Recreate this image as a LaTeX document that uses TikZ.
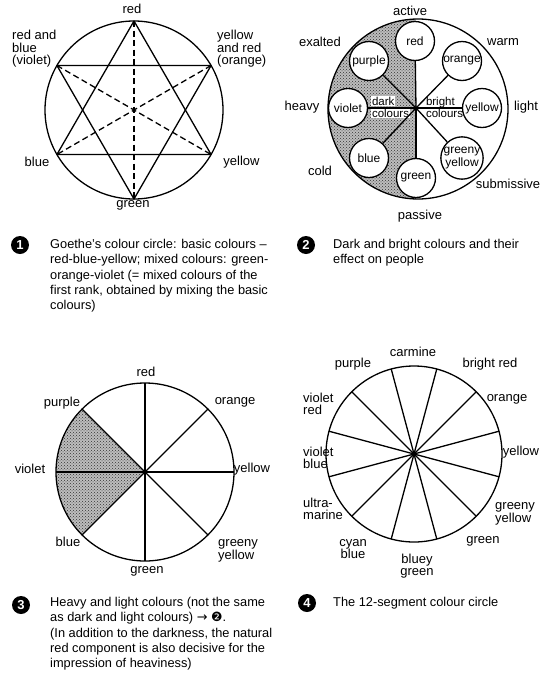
\documentclass[tikz,border=0pt]{standalone}
\usepackage{fontspec}
\setmainfont{Liberation Sans}
\newfontfamily\djv{DejaVu Sans}
\usetikzlibrary{calc,patterns}
\tikzset{
  ln/.style={line width=1.3pt},
  dsh/.style={line width=1.3pt, dash pattern=on 6pt off 3.5pt},
  lbl/.style={font=\fontsize{13}{12.5}\selectfont, inner sep=0pt, align=left},
  lblc/.style={lbl, align=center},
  circ/.style={circle, draw, fill=white, line width=1.3pt, minimum size=39pt, inner sep=0pt, font=\fontsize{12}{11}\selectfont, align=center},
  smalltxt/.style={font=\fontsize{11.5}{11.5}\selectfont, inner sep=0.8pt, fill=white, anchor=base west},
  shadefill/.style={fill=black!26},
  shadedots/.style={pattern=crosshatch dots, pattern color=black!80},
  captxt/.style={font=\fontsize{12.8}{15.3}\selectfont, inner sep=0pt, align=left, anchor=north west},
  numc/.style={circle, fill=black, text=white, inner sep=0pt, minimum size=18pt, font=\bfseries\fontsize{13}{13}\selectfont}
}
\begin{document}
\begin{tikzpicture}[x=1pt,y=-1pt]
\useasboundingbox (0,0) rectangle (540,686);
\fill[white] (0,0) rectangle (540,686);

% ---------------- Diagram 1: Goethe ----------------
\coordinate (g-c) at (134,110);
\coordinate (g-red) at ($(g-c)+(90:89pt)$);
\coordinate (g-orange) at ($(g-c)+(30:89pt)$);
\coordinate (g-yellow) at ($(g-c)+(-30:89pt)$);
\coordinate (g-green) at ($(g-c)+(-90:89pt)$);
\coordinate (g-blue) at ($(g-c)+(210:89pt)$);
\coordinate (g-violet) at ($(g-c)+(150:89pt)$);
\draw[ln] (g-c) circle (89pt);
\draw[ln, line join=round] (g-red) -- (g-yellow) -- (g-blue) -- cycle;
\draw[ln, line join=round] (g-violet) -- (g-orange) -- (g-green) -- cycle;
\draw[dsh] (g-red) -- (g-green);
\draw[dsh] (g-violet) -- (g-yellow);
\draw[dsh] (g-orange) -- (g-blue);
\node[lbl] (g-l-red) at (132,9) {red};
\node[lbl, anchor=west] (g-l-violet) at (12,49) {red and\\blue\\(violet)};
\node[lbl, anchor=west] (g-l-orange) at (217,49) {yellow\\and red\\(orange)};
\node[lbl] (g-l-blue) at (37,162) {blue};
\node[lbl] (g-l-yellow) at (241.5,162) {yellow};
\node[lbl] (g-l-green) at (133,205) {green};

% ---------------- Diagram 2: dark and bright ----------------
\coordinate (b-c) at (416,108);
\coordinate (b-o) at (418,109);
\begin{scope}
  \clip (b-o) circle (90pt);
  \fill[shadefill] (320,10) rectangle (416,210);
  \fill[shadedots] (320,10) rectangle (416,210);
\end{scope}
\draw[ln] (b-o) circle (90pt);
\node[smalltxt] (b-dark) at (371,105) {dark};
\node[smalltxt] (b-dcol) at (371,117.5) {colours};
\node[smalltxt] (b-bright) at (425,105) {bright};
\node[smalltxt] (b-bcol) at (425,117.5) {colours};
\node[circ] (b-red) at (415,41) {red};
\node[circ] (b-orange) at (462,61) {orange};
\node[circ] (b-yellow) at (482,108) {yellow};
\node[circ] (b-gy) at (462,158) {greeny\\yellow};
\node[circ] (b-green) at (416,178) {green};
\node[circ] (b-blue) at (369,158) {blue};
\node[circ] (b-violet) at (348,108) {violet};
\node[circ] (b-purple) at (369,61) {purple};
\foreach \n in {red,orange,yellow,gy,green,blue,violet,purple}
  \draw[ln] (b-c) -- (b-\n);
\fill (b-c) circle (1.8pt);
\node[lbl] (b-l-active) at (410,11) {active};
\node[lbl] (b-l-exalted) at (320,42) {exalted};
\node[lbl] (b-l-warm) at (503,42) {warm};
\node[lbl] (b-l-heavy) at (302,107) {heavy};
\node[lbl] (b-l-light) at (526,107) {light};
\node[lbl] (b-l-cold) at (320,171) {cold};
\node[lbl] (b-l-sub) at (508,184) {submissive};
\node[lbl] (b-l-passive) at (420,216) {passive};

% ---------------- Captions top ----------------
\node[numc] (n1) at (20,245) {1};
\node[captxt] (cap1) at (50,239) {Goethe's colour circle: basic colours --\\red-blue-yellow; mixed colours: green-\\orange-violet (= mixed colours of the\\first rank, obtained by mixing the basic\\colours)};
\node[numc] (n2) at (306,245) {2};
\node[captxt] (cap2) at (333,239) {Dark and bright colours and their\\effect on people};

% ---------------- Diagram 3: heavy and light ----------------
\coordinate (h-c) at (145,472);
\begin{scope}
  \clip (h-c) circle (89pt);
  \fill[shadefill] (h-c) -- ($(h-c)+(135:130pt)$) -- ($(h-c)+(180:184pt)$) -- ($(h-c)+(225:130pt)$) -- cycle;
  \fill[shadedots] (h-c) -- ($(h-c)+(135:130pt)$) -- ($(h-c)+(180:184pt)$) -- ($(h-c)+(225:130pt)$) -- cycle;
\end{scope}
\draw[ln] (h-c) circle (89pt);
\foreach \a/\n in {90/red,45/orange,0/yellow,-45/gy,-90/green,-135/blue,180/violet,135/purple}{
  \coordinate (h-\n) at ($(h-c)+(\a:89pt)$);
  \draw[ln] (h-c) -- (h-\n);
}
\fill (h-c) circle (1.8pt);
\node[lbl] (h-l-red) at (146,372) {red};
\node[lbl] (h-l-purple) at (62,403) {purple};
\node[lbl] (h-l-orange) at (235,402) {orange};
\node[lbl] (h-l-violet) at (30,469) {violet};
\node[lbl] (h-l-yellow) at (252,469) {yellow};
\node[lbl] (h-l-blue) at (68,542) {blue};
\node[lbl, anchor=west] (h-l-gy) at (218,551) {greeny\\yellow};
\node[lbl] (h-l-green) at (147,571) {green};

% ---------------- Diagram 4: 12-segment ----------------
\coordinate (t-c) at (414,454);
\draw[ln] (t-c) circle (88pt);
\foreach \k in {0,...,11}{
  \coordinate (t-s\k) at ($(t-c)+({15+30*\k}:88pt)$);
  \draw[ln] (t-c) -- (t-s\k);
}
\fill (t-c) circle (2.8pt);
\node[lbl] (t-carmine) at (413,352) {carmine};
\node[lbl] (t-bred) at (490,364) {bright red};
\node[lbl] (t-orange) at (507,399) {orange};
\node[lbl] (t-yellow) at (521,452) {yellow};
\node[lbl, anchor=west] (t-gy) at (495,514) {greeny\\yellow};
\node[lbl] (t-green) at (483,541) {green};
\node[lblc] (t-bg) at (417,566) {bluey\\green};
\node[lblc] (t-cb) at (353,549) {cyan\\blue};
\node[lbl, anchor=west] (t-um) at (303,509) {ultra-\\marine};
\node[lbl, anchor=west] (t-vb) at (303,458) {violet\\blue};
\node[lbl, anchor=west] (t-vr) at (303,404) {violet\\red};
\node[lbl] (t-purple) at (353,364) {purple};

% ---------------- Captions bottom ----------------
\node[numc] (n3) at (21,605) {3};
\node[captxt] (cap3) at (50,597) {Heavy and light colours (not the same\\as dark and light colours) {\djv →} {\djv ❷}.\\(In addition to the darkness, the natural\\red component is also decisive for the\\impression of heaviness)};
\node[numc] (n4) at (307,603) {4};
\node[captxt] (cap4) at (333,597) {The 12-segment colour circle};
\end{tikzpicture}
\end{document}
